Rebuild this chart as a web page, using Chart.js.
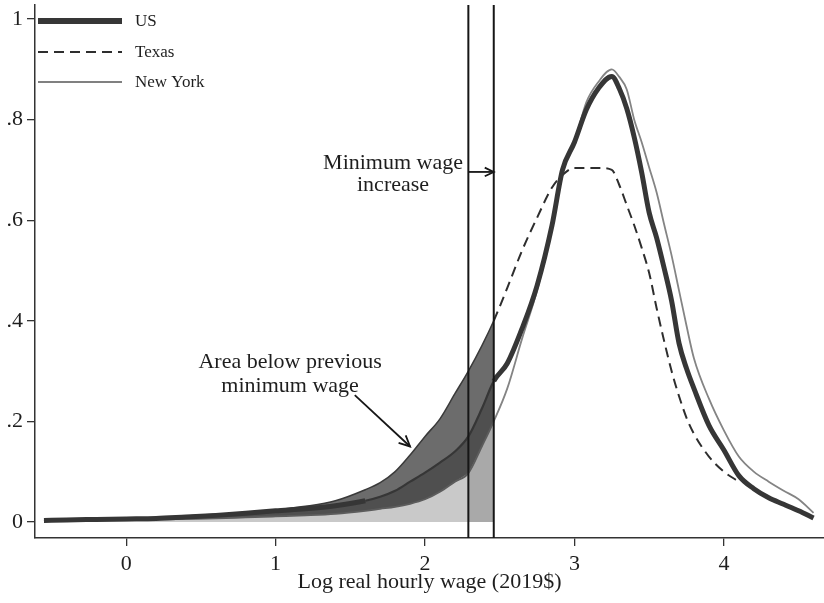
<!DOCTYPE html>
<html><head><meta charset="utf-8">
<script src="https://cdn.jsdelivr.net/npm/chart.js@4"></script>
<style>html,body{margin:0;padding:0;background:#fff}canvas{display:block}</style>
</head><body>
<canvas id="c" width="824" height="603"></canvas>
<script>
// ---- data ----
const wage = [-0.55,-0.4,-0.2,0,0.2,0.4,0.6,0.8,1.0,1.2,1.4,1.6,1.7,1.8,1.9,2.0,2.1,2.2,2.29,2.38,2.46,2.55,2.65,2.75,2.85,2.92,3.0,3.08,3.16,3.25,3.3,3.35,3.4,3.45,3.5,3.55,3.6,3.65,3.7,3.75,3.8,3.9,4.0,4.1,4.2,4.3,4.4,4.5,4.6];
const usDensity = [.003,.004,.005,.006,.007,.010,.013,.017,.022,.026,.032,.042,.050,.062,.080,.098,.118,.140,.170,.225,.280,.315,.385,.470,.590,.700,.755,.820,.862,.886,.862,.822,.765,.695,.615,.565,.505,.440,.355,.305,.265,.192,.143,.092,.066,.048,.035,.022,.008];
const texasDensity = [.003,.004,.005,.006,.008,.012,.015,.018,.024,.031,.042,.064,.078,.100,.133,.170,.205,.255,.300,.350,.400,.465,.540,.605,.665,.690,.704,.704,.704,.700,.670,.630,.590,.545,.495,.425,.360,.300,.250,.207,.175,.130,.100,.080,null,null,null,null,null];
const nyDensity = [.002,.003,.004,.005,.005,.006,.007,.009,.011,.013,.016,.022,.026,.030,.036,.045,.060,.080,.097,.150,.200,.265,.365,.460,.585,.700,.755,.835,.875,.900,.885,.860,.800,.755,.705,.655,.592,.530,.460,.390,.325,.245,.182,.130,.100,.080,.062,.045,.018];
const seriesNames = ['US','Texas','New York'];
const xTicks = [0,1,2,3,4];
const yTicks = [0,0.2,0.4,0.6,0.8,1];
const oldMinWage = 2.29;
const newMinWage = 2.46;
const xRange = [-0.61, 4.67];
const yRange = [-0.032, 1.028];
const xTitle = 'Log real hourly wage (2019$)';
const noteIncrease = ['Minimum wage','increase'];
const noteArea = ['Area below previous','minimum wage'];

// ---- helpers ----
const serif = '"Liberation Serif","Times New Roman",serif';
const pts = (arr, lo, hi) => wage.map((x,i)=>({x, y:arr[i]})).filter(p => p.x >= lo - 1e-9 && p.x <= hi + 1e-9);
const inLeft = c => c.p0.parsed.x < newMinWage - 1e-9;

const fillDs = (arr, lo, hi, color, order) => ({
  data: pts(arr, lo, hi), fill:'origin', backgroundColor: color,
  borderColor:'rgba(0,0,0,0)', borderWidth:0, pointRadius:0,
  cubicInterpolationMode:'monotone', order
});
const vline = (x) => ({
  data:[{x, y:yRange[0]},{x, y:yRange[1]}], borderColor:'#161616', borderWidth:2,
  pointRadius:0, fill:false, order:0
});

function arrow(ctx, x1, y1, x2, y2, head){
  const a = Math.atan2(y2-y1, x2-x1);
  ctx.beginPath(); ctx.moveTo(x1,y1); ctx.lineTo(x2,y2); ctx.stroke();
  ctx.beginPath();
  ctx.moveTo(x2 - head*Math.cos(a-0.45), y2 - head*Math.sin(a-0.45));
  ctx.lineTo(x2, y2);
  ctx.lineTo(x2 - head*Math.cos(a+0.45), y2 - head*Math.sin(a+0.45));
  ctx.stroke();
}

const decor = {
  id:'decor',
  afterDatasetsDraw(chart){
    const {ctx, chartArea:a, scales:{x, y}} = chart;
    ctx.save();
    // legend
    const rows = [
      {ds: chart.data.datasets[2], w:6, dash:[], color:'#363636'},
      {ds: chart.data.datasets[3], w:2, dash:[10,6], color:'#2e2e2e'},
      {ds: chart.data.datasets[4], w:1.8, dash:[], color:'#808080'}
    ];
    const rowY = [a.top+16, a.top+47, a.top+77];
    ctx.font = '17px ' + serif; ctx.fillStyle = '#1e1e1e';
    ctx.textAlign = 'left'; ctx.textBaseline = 'middle';
    rows.forEach((r,i)=>{
      ctx.beginPath(); ctx.setLineDash(r.dash); ctx.lineWidth = r.w; ctx.strokeStyle = r.color;
      ctx.moveTo(a.left+3, rowY[i]); ctx.lineTo(a.left+87, rowY[i]); ctx.stroke();
      ctx.setLineDash([]);
      ctx.fillText(r.ds.label, a.left+100, rowY[i]+1);
    });
    // annotations
    ctx.font = '22px ' + serif; ctx.textAlign = 'center'; ctx.fillStyle = '#1e1e1e';
    ctx.fillText(noteIncrease[0], x.getPixelForValue(1.786), y.getPixelForValue(0.714));
    ctx.fillText(noteIncrease[1], x.getPixelForValue(1.786), y.getPixelForValue(0.670));
    ctx.fillText(noteArea[0], x.getPixelForValue(1.097), y.getPixelForValue(0.318));
    ctx.fillText(noteArea[1], x.getPixelForValue(1.097), y.getPixelForValue(0.270));
    ctx.strokeStyle = '#161616'; ctx.lineWidth = 1.8;
    arrow(ctx, x.getPixelForValue(oldMinWage), y.getPixelForValue(0.696),
               x.getPixelForValue(newMinWage), y.getPixelForValue(0.696), 10);
    arrow(ctx, x.getPixelForValue(1.53), y.getPixelForValue(0.252),
               x.getPixelForValue(1.90), y.getPixelForValue(0.150), 12);
    ctx.restore();
  }
};

new Chart(document.getElementById('c'), {
  type:'line',
  data:{ datasets:[
    vline(oldMinWage),
    vline(newMinWage),
    { label:seriesNames[0], data:pts(usDensity,-9,9), borderColor:'#363636', borderWidth:5,
      pointRadius:0, fill:false, cubicInterpolationMode:'monotone', order:1,
      segment:{ borderWidth: c => (inLeft(c) && c.p0.parsed.x >= 1.5) ? 2.2 : 5 } },
    { label:seriesNames[1], data:pts(texasDensity,-9,9), borderColor:'#2e2e2e', borderWidth:2,
      pointRadius:0, fill:false, cubicInterpolationMode:'monotone', order:2,
      segment:{ borderDash: c => inLeft(c) ? [] : [10,6], borderWidth: c => inLeft(c) ? 1.5 : 2,
                borderColor: c => inLeft(c) ? '#3a3a3a' : '#2e2e2e' } },
    { label:seriesNames[2], data:pts(nyDensity,-9,9), borderColor:'#848484', borderWidth:1.8,
      pointRadius:0, fill:false, cubicInterpolationMode:'monotone', order:3,
      segment:{ borderColor: c => inLeft(c) ? '#5c5c5c' : '#848484' } },
    fillDs(nyDensity, oldMinWage, newMinWage, '#a9a9a9', 10),
    fillDs(nyDensity, -9, oldMinWage, '#c9c9c9', 11),
    fillDs(usDensity, -9, newMinWage, '#4f4f4f', 12),
    fillDs(texasDensity, -9, newMinWage, '#6c6c6c', 13)
  ]},
  options:{
    responsive:false, animation:false, devicePixelRatio:1,
    layout:{ padding:{ top:5, left:0, right:0, bottom:0 } },
    plugins:{ legend:{display:false}, tooltip:{enabled:false}, title:{display:false} },
    scales:{
      x:{ type:'linear', min:xRange[0], max:xRange[1],
        afterBuildTicks: s => { s.ticks = xTicks.map(v=>({value:v})); },
        afterFit: s => { s.height = 65; s.paddingLeft = 0; s.paddingRight = 0; },
        grid:{ drawOnChartArea:false, drawTicks:true, tickLength:8, color:'#333', lineWidth:1.3 },
        border:{ display:true, color:'#333', width:1.5 },
        ticks:{ font:{family:serif, size:22}, color:'#1e1e1e', padding:5, maxRotation:0, autoSkip:false,
                callback: v => String(v) },
        title:{ display:true, text:xTitle, font:{family:serif, size:22, lineHeight:1.2}, color:'#1e1e1e',
                padding:{top:0, bottom:8} } },
      y:{ type:'linear', min:yRange[0], max:yRange[1],
        afterBuildTicks: s => { s.ticks = yTicks.map(v=>({value:v})); },
        afterFit: s => { s.width = 35; s.paddingTop = 0; s.paddingBottom = 0; },
        grid:{ drawOnChartArea:false, drawTicks:true, tickLength:8, color:'#333', lineWidth:1.3 },
        border:{ display:true, color:'#333', width:1.5 },
        ticks:{ font:{family:serif, size:22}, color:'#1e1e1e', padding:4, autoSkip:false,
                callback: v => (v === 0 ? '0' : v === 1 ? '1' : v.toFixed(1).replace(/^0/, '')) } }
    }
  },
  plugins:[decor]
});
</script>
</body></html>
